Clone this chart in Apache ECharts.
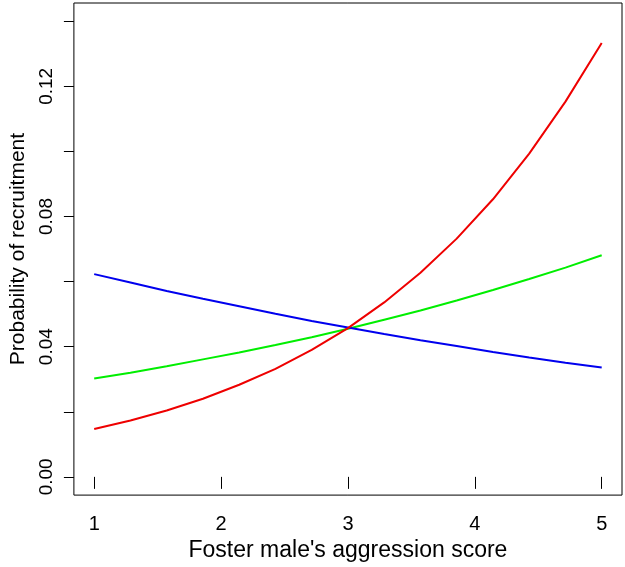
<!DOCTYPE html>
<html>
<head>
<meta charset="utf-8">
<script src="https://cdn.jsdelivr.net/npm/echarts@6/dist/echarts.min.js"></script>
<style>
html, body { margin: 0; padding: 0; background: #fff; }
#chart { width: 625px; height: 567px; }
</style>
</head>
<body>
<div id="chart"></div>
<script>
// aggression scores (15 evenly spaced points, 1..5)
var scores = [1, 1.2857, 1.5714, 1.8571, 2.1429, 2.4286, 2.7143, 3, 3.2857, 3.5714, 3.8571, 4.1429, 4.4286, 4.7143, 5];
var redProb = [0.0147, 0.0173, 0.0204, 0.0240, 0.0283, 0.0332, 0.0390, 0.0457, 0.0536, 0.0627, 0.0732, 0.0853, 0.0993, 0.1153, 0.1333];
var greenProb = [0.0302, 0.0320, 0.0340, 0.0361, 0.0382, 0.0405, 0.0429, 0.0455, 0.0483, 0.0511, 0.0542, 0.0574, 0.0608, 0.0643, 0.0681];
var blueProb = [0.0623, 0.0597, 0.0571, 0.0547, 0.0524, 0.0501, 0.0479, 0.0459, 0.0439, 0.0420, 0.0402, 0.0384, 0.0367, 0.0351, 0.0336];

var xTicks = [1, 2, 3, 4, 5];
var yTicks = [0, 0.02, 0.04, 0.06, 0.08, 0.10, 0.12, 0.14];
var yLabels = [0, 0.04, 0.08, 0.12];

function pairs(ys) {
    return scores.map(function (x, i) { return [x, ys[i]]; });
}

var font = '"Liberation Sans", Arial, Helvetica, sans-serif';

var chart = echarts.init(document.getElementById('chart'));
chart.setOption({
    animation: false,
    grid: {
        left: 70,
        right: 3,
        top: 3,
        bottom: 70,
        show: true,
        borderColor: '#000',
        borderWidth: 1
    },
    xAxis: {
        type: 'value',
        min: 0.84,
        max: 5.16,
        name: "Foster male's aggression score",
        nameLocation: 'middle',
        nameGap: 38,
        nameTextStyle: { color: '#000', fontSize: 23, fontFamily: font },
        axisLine: { show: false },
        splitLine: { show: false },
        axisTick: {
            show: true,
            length: 12,
            customValues: xTicks,
            lineStyle: { color: '#000', width: 1 }
        },
        axisLabel: {
            customValues: xTicks,
            margin: 19,
            color: '#000',
            fontSize: 20,
            fontFamily: font
        }
    },
    yAxis: {
        type: 'value',
        min: -0.0056,
        max: 0.1456,
        name: 'Probability of recruitment',
        nameLocation: 'middle',
        nameRotate: 90,
        nameGap: 40,
        nameTextStyle: { color: '#000', fontSize: 21, fontFamily: font },
        axisLine: { show: false },
        splitLine: { show: false },
        axisTick: {
            show: true,
            length: 10,
            customValues: yTicks,
            lineStyle: { color: '#000', width: 1 }
        },
        axisLabel: {
            customValues: yLabels,
            rotate: 90,
            margin: 18,
            color: '#000',
            fontSize: 19,
            fontFamily: font,
            formatter: function (v) { return v.toFixed(2); }
        }
    },
    series: [
        {
            type: 'line',
            data: pairs(greenProb),
            symbol: 'none',
            lineStyle: { color: '#00ee00', width: 2 }
        },
        {
            type: 'line',
            data: pairs(blueProb),
            symbol: 'none',
            lineStyle: { color: '#0000ee', width: 2 }
        },
        {
            type: 'line',
            data: pairs(redProb),
            symbol: 'none',
            lineStyle: { color: '#ee0000', width: 2 }
        }
    ]
});
</script>
</body>
</html>
